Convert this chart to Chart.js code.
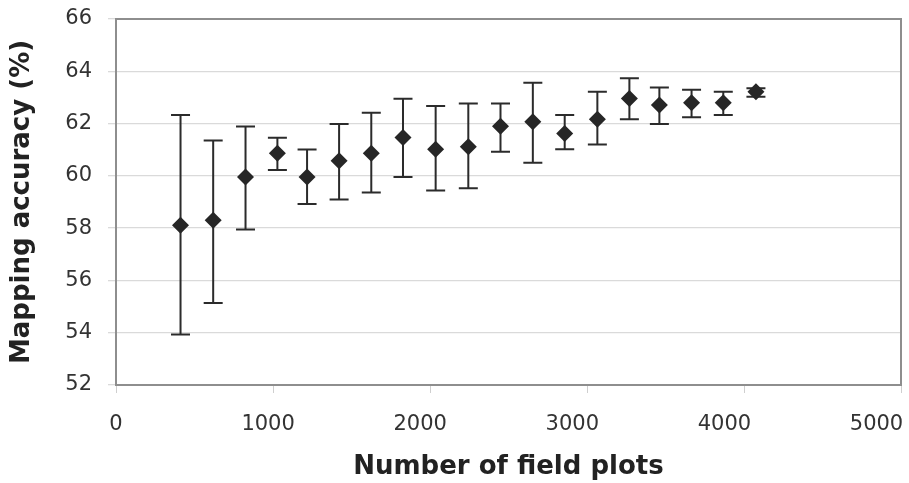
<!DOCTYPE html>
<html>
<head>
<meta charset="utf-8">
<script src="https://cdn.jsdelivr.net/npm/chart.js@4.4.1/dist/chart.umd.min.js"></script>
<style>
  html, body { margin: 0; padding: 0; background: #ffffff; }
  #wrap { width: 909px; height: 483px; }
</style>
</head>
<body>
<div id="wrap"><canvas id="c" width="909" height="483"></canvas></div>
<script>
// Data
const fieldPlots = [411, 619, 825, 1028, 1217, 1421, 1626, 1828, 2036, 2244, 2449, 2655, 2858, 3066, 3270, 3461, 3666, 3868, 4076];
const meanAccuracy = [58.11, 58.30, 59.96, 60.86, 59.96, 60.58, 60.86, 61.47, 61.02, 61.11, 61.90, 62.07, 61.62, 62.17, 62.96, 62.71, 62.80, 62.80, 63.22];
const upperAccuracy = [62.33, 61.35, 61.89, 61.46, 61.01, 61.98, 62.41, 62.95, 62.67, 62.77, 62.77, 63.56, 62.33, 63.22, 63.73, 63.38, 63.29, 63.22, 63.35];
const lowerAccuracy = [53.93, 55.14, 57.95, 60.22, 58.92, 59.10, 59.36, 59.96, 59.44, 59.53, 60.92, 60.50, 61.02, 61.20, 62.17, 61.98, 62.24, 62.33, 63.03];
const xTickValues = [0, 1000, 2000, 3000, 4000, 5000];
const yTickValues = [52, 54, 56, 58, 60, 62, 64, 66];
const xTitle = 'Number of field plots';
const yTitle = 'Mapping accuracy (%)';

const points = fieldPlots.map((x, i) => ({ x: x, y: meanAccuracy[i] }));

const errorBarPlugin = {
  id: 'errorBars',
  beforeDatasetsDraw(chart) {
    const ctx = chart.ctx;
    const xs = chart.scales.x, ys = chart.scales.y;
    ctx.save();
    ctx.strokeStyle = '#2b2b2b';
    ctx.lineWidth = 2;
    const cap = 9.5;
    fieldPlots.forEach((xv, i) => {
      const px = xs.getPixelForValue(xv);
      const pHi = ys.getPixelForValue(upperAccuracy[i]);
      const pLo = ys.getPixelForValue(lowerAccuracy[i]);
      ctx.beginPath();
      ctx.moveTo(px, pHi); ctx.lineTo(px, pLo);
      ctx.moveTo(px - cap, pHi); ctx.lineTo(px + cap, pHi);
      ctx.moveTo(px - cap, pLo); ctx.lineTo(px + cap, pLo);
      ctx.stroke();
    });
    ctx.restore();
  }
};

const frameBorderPlugin = {
  id: 'frameBorder',
  afterDraw(chart) {
    const a = chart.chartArea;
    const ctx = chart.ctx;
    ctx.save();
    ctx.strokeStyle = '#8e8e8e';
    ctx.lineWidth = 2;
    ctx.strokeRect(a.left, a.top, a.right - a.left, a.bottom - a.top);
    ctx.restore();
  }
};

const whiteBg = {
  id: 'whiteBg',
  beforeDraw(chart) {
    const ctx = chart.ctx;
    ctx.save();
    ctx.fillStyle = '#ffffff';
    ctx.fillRect(0, 0, chart.width, chart.height);
    ctx.restore();
  }
};

new Chart(document.getElementById('c'), {
  type: 'scatter',
  data: {
    datasets: [{
      data: points,
      xAxisID: 'x',
      yAxisID: 'y',
      pointStyle: 'rectRot',
      pointRadius: 8.5,
      pointHoverRadius: 8.5,
      backgroundColor: '#262626',
      borderColor: '#262626',
      borderWidth: 0,
      showLine: false
    }]
  },
  options: {
    responsive: false,
    animation: false,
    events: [],
    layout: { autoPadding: false, padding: { top: 19, right: 8, left: 0, bottom: 0 } },
    plugins: { legend: { display: false }, tooltip: { enabled: false } },
    scales: {
      x: {
        type: 'linear',
        position: 'bottom',
        weight: 0,
        min: 0, max: 5000,
        offset: false,
        afterBuildTicks(s) { s.ticks = xTickValues.map(v => ({ value: v })); },
        afterFit(s) { s.height = 8; s.paddingLeft = 0; s.paddingRight = 0; },
        ticks: { display: false },
        grid: { drawOnChartArea: false, drawTicks: true, tickLength: 8, color: '#cfcfcf' },
        border: { display: false },
        title: { display: false }
      },
      xLabels: {
        type: 'linear',
        position: 'bottom',
        weight: 1,
        min: 0, max: 5161,
        offset: false,
        afterBuildTicks(s) { s.ticks = xTickValues.map(v => ({ value: v })); },
        afterFit(s) { s.height = 90; s.paddingLeft = 0; s.paddingRight = 0; },
        ticks: { color: '#333333', padding: 19, maxRotation: 0, autoSkip: false,
                 callback: (v) => String(v),
                 font: { family: 'DejaVu Sans', size: 21 } },
        grid: { display: false, drawTicks: false },
        border: { display: false },
        title: { display: true, text: xTitle, color: '#222222',
                 font: { family: 'DejaVu Sans', size: 26, weight: 'bold' },
                 padding: { top: 0, bottom: 0 } }
      },
      y: {
        min: 52, max: 66,
        afterBuildTicks(s) { s.ticks = yTickValues.map(v => ({ value: v })); },
        afterFit(s) { s.width = 116; s.paddingTop = 0; s.paddingBottom = 0; },
        ticks: { color: '#333333', padding: 16,
                 font: { family: 'DejaVu Sans', size: 21 } },
        grid: { color: '#dadada', lineWidth: 1.3, tickLength: 8 },
        border: { display: false },
        title: { display: true, text: yTitle, color: '#222222',
                 font: { family: 'DejaVu Sans', size: 26, weight: 'bold' },
                 padding: { top: 7, bottom: 0 } }
      }
    }
  },
  plugins: [whiteBg, errorBarPlugin, frameBorderPlugin]
});
</script>
</body>
</html>
